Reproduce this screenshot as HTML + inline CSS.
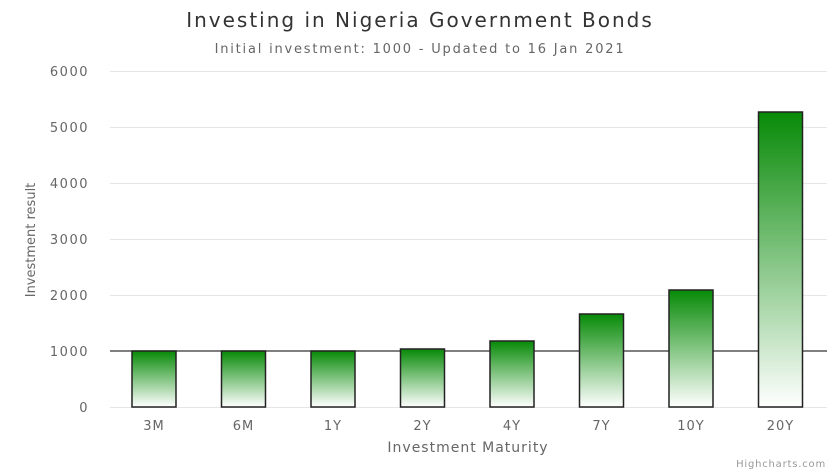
<!DOCTYPE html>
<html><head><meta charset="utf-8"><style>body{margin:0;background:#fff}svg{display:block}text{font-family:"DejaVu Sans","Liberation Sans",sans-serif}</style></head>
<body>
<svg width="840" height="473" viewBox="0 0 840 473" xmlns="http://www.w3.org/2000/svg">
<defs><linearGradient id="g" x1="0" y1="0" x2="0" y2="1"><stop offset="0" stop-color="#078a07"/><stop offset="1" stop-color="#ffffff"/></linearGradient></defs>
<text x="420" y="27" text-anchor="middle" font-size="20" fill="#333" letter-spacing="2">Investing in Nigeria Government Bonds</text>
<text x="420" y="53" text-anchor="middle" font-size="13" fill="#666" letter-spacing="1.8">Initial investment: 1000 - Updated to 16 Jan 2021</text>
<g stroke="#e6e6e6" stroke-width="1">
<line x1="110" x2="827" y1="71.5" y2="71.5"/><line x1="110" x2="827" y1="127.5" y2="127.5"/><line x1="110" x2="827" y1="183.5" y2="183.5"/><line x1="110" x2="827" y1="239.5" y2="239.5"/><line x1="110" x2="827" y1="295.5" y2="295.5"/><line x1="110" x2="827" y1="407.5" y2="407.5"/>
</g>
<g font-size="13" fill="#666" text-anchor="end" letter-spacing="1.5">
<text x="89" y="76">6000</text><text x="89" y="132">5000</text><text x="89" y="188">4000</text><text x="89" y="244">3000</text><text x="89" y="300">2000</text><text x="89" y="356">1000</text><text x="89" y="412">0</text>
</g>
<text transform="translate(35,240) rotate(-90)" text-anchor="middle" font-size="13" fill="#666">Investment result</text>
<line x1="110" x2="827" y1="351" y2="351" stroke="#333" stroke-width="1.2"/>
<g fill="url(#g)" stroke="#222" stroke-width="1.5">
<rect x="132" y="351" width="44" height="56"/>
<rect x="221.5" y="351" width="44" height="56"/>
<rect x="311" y="351" width="44" height="56"/>
<rect x="400.5" y="349" width="44" height="58"/>
<rect x="490" y="341" width="44" height="66"/>
<rect x="579.5" y="314" width="44" height="93"/>
<rect x="669" y="290" width="44" height="117"/>
<rect x="758.5" y="112" width="44" height="295"/>
</g>
<g font-size="13" fill="#666" text-anchor="middle" letter-spacing="1">
<text x="154" y="430">3M</text><text x="243.5" y="430">6M</text><text x="333" y="430">1Y</text><text x="422.5" y="430">2Y</text><text x="512" y="430">4Y</text><text x="601.5" y="430">7Y</text><text x="691" y="430">10Y</text><text x="780.5" y="430">20Y</text>
</g>
<text x="468" y="452" text-anchor="middle" font-size="14" fill="#666" letter-spacing="1">Investment Maturity</text>
<text x="826" y="467" text-anchor="end" font-size="10" fill="#999" letter-spacing="0.8">Highcharts.com</text>
</svg>
</body></html>
